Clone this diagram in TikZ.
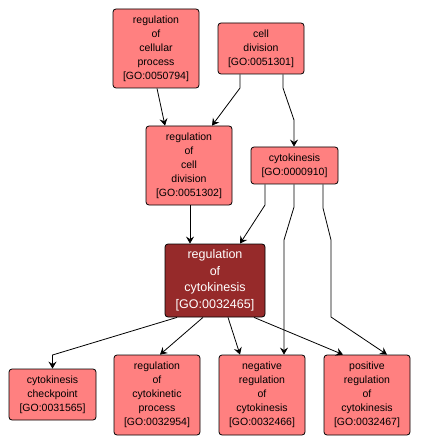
\documentclass[tikz,border=0pt]{standalone}
\usepackage{fontspec}
\setmainfont{Liberation Sans}
\usetikzlibrary{shapes,arrows.meta}
\definecolor{goterm}{RGB}{255,128,128}
\definecolor{goquery}{RGB}{150,42,42}
\tikzstyle{term} = [rectangle, draw, fill=goterm, rounded corners=3pt,
    align=center, inner sep=0pt, minimum width=86pt,
    font=\fontsize{10.5}{14}\selectfont]
\tikzstyle{query} = [term, fill=goquery, text=white, minimum width=100pt,
    minimum height=73pt, font=\fontsize{12.5}{16.5}\selectfont]
\tikzstyle{line} = [draw, -{Stealth[length=7pt,width=8pt,inset=2.5pt]}]

\begin{document}
\begin{tikzpicture}[x=1pt, y=-1pt, line width=0.8pt]
    \useasboundingbox (0,0) rectangle (421,446);
    % Place nodes
    \node [term, minimum height=79pt] (regcell) at (156,48.5) {regulation\\of\\cellular\\process\\{[GO:0050794]}};
    \node [term, minimum height=51pt] (celldiv) at (261,48.5) {cell\\division\\{[GO:0051301]}};
    \node [term, minimum height=79pt] (regdiv) at (189,165.5) {regulation\\of\\cell\\division\\{[GO:0051302]}};
    \node [term, minimum height=37pt, minimum width=87pt] (cytok) at (294.5,165.5) {cytokinesis\\{[GO:0000910]}};
    \node [query] (regcytok) at (215,280.5) {regulation\\of\\cytokinesis\\{[GO:0032465]}};
    \node [term, minimum height=51pt, minimum width=87pt] (checkpt) at (52.5,394.5) {cytokinesis\\checkpoint\\{[GO:0031565]}};
    \node [term, minimum height=80pt] (regproc) at (157,395) {regulation\\of\\cytokinetic\\process\\{[GO:0032954]}};
    \node [term, minimum height=80pt] (negreg) at (262,395) {negative\\regulation\\of\\cytokinesis\\{[GO:0032466]}};
    \node [term, minimum height=80pt] (posreg) at (367,395) {positive\\regulation\\of\\cytokinesis\\{[GO:0032467]}};
    % Draw edges
    \path [line] ([xshift=1pt]regcell.south) -- ([xshift=-24pt]regdiv.north);
    \path [line] ([xshift=-21pt]celldiv.south) -- (240,88) -- ([xshift=23pt]regdiv.north);
    \path [line] ([xshift=22pt]celldiv.south) -- (283,88) -- (294,120) -- ([xshift=-0.5pt]cytok.north);
    \path [line] ([xshift=-25pt]regcytok.north |- regdiv.south) -- ([xshift=-25pt]regcytok.north);
    \path [line] ([xshift=-29.5pt]cytok.south) -- (265,205) -- ([xshift=25pt]regcytok.north);
    \path [line] ([xshift=-0.5pt]cytok.south) -- (294,207) -- (284,240) -- ([xshift=22pt]negreg.north);
    \path [line] ([xshift=28.5pt]cytok.south) -- (323,208) -- (331,240) -- (331,317) -- ([xshift=20pt]posreg.north);
    \path [line] ([xshift=-38pt]regcytok.south) -- (52.5,355) -- (checkpt.north);
    \path [line] ([xshift=-12pt]regcytok.south) -- ([xshift=3pt]regproc.north);
    \path [line] ([xshift=13pt]regcytok.south) -- ([xshift=-22pt]negreg.north);
    \path [line] ([xshift=39pt]regcytok.south) -- ([xshift=-24pt]posreg.north);
\end{tikzpicture}
\end{document}
